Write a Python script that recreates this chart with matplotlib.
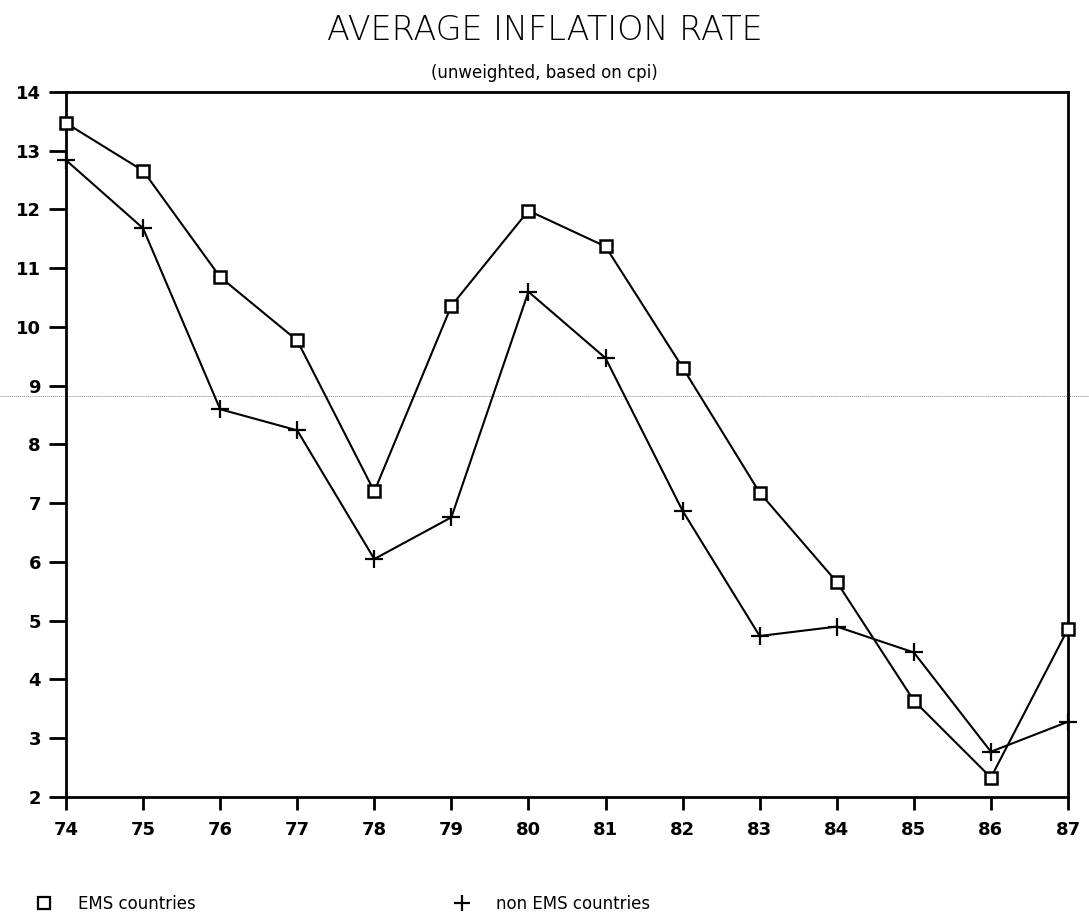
import matplotlib
matplotlib.use("Agg")
import matplotlib.pyplot as plt
from matplotlib.lines import Line2D
from matplotlib.transforms import blended_transform_factory

years = [74, 75, 76, 77, 78, 79, 80, 81, 82, 83, 84, 85, 86, 87]
ems = [13.47, 12.66, 10.85, 9.77, 7.20, 10.36, 11.98, 11.37, 9.31, 7.18, 5.66, 3.64, 2.33, 4.86]
non_ems = [12.84, 11.68, 8.60, 8.24, 6.05, 6.76, 10.60, 9.47, 6.87, 4.74, 4.90, 4.46, 2.77, 3.28]
ref_level = 8.83
yticks = list(range(2, 15))

fig = plt.figure(figsize=(10.89, 9.19), dpi=100)
ax = fig.add_axes([0.0606, 0.1328, 0.9201, 0.7671])

ax.plot(years, ems, color="black", lw=1.5, marker="s", ms=9, mfc="white",
        mec="black", mew=1.8, label="EMS countries", clip_on=False, zorder=3)
ax.plot(years, non_ems, color="black", lw=1.5, marker="+", ms=13, mew=1.6,
        label="non EMS countries", clip_on=False, zorder=3)

trans = blended_transform_factory(fig.transFigure, ax.transData)
ax.plot([0, 1], [ref_level, ref_level], transform=trans, color="#888888",
        lw=0.7, ls=(0, (1, 1)), clip_on=False, zorder=0)

ax.set_xlim(years[0], years[-1])
ax.set_ylim(2, 14)
ax.set_xticks(years)
ax.set_xticklabels([str(y) for y in years])
ax.set_yticks(yticks)
for s in ax.spines.values():
    s.set_linewidth(2)
ax.tick_params(axis="both", direction="out", width=2, length=9,
               labelsize=13)
ax.tick_params(axis="x", pad=8)
ax.tick_params(axis="y", length=12, pad=6)
for lab in ax.get_xticklabels() + ax.get_yticklabels():
    lab.set_fontweight("bold")

fig.text(0.5, 0.967, "AVERAGE INFLATION RATE", ha="center", va="center",
         fontsize=24, fontweight="light")
fig.text(0.5, 0.921, "(unweighted, based on cpi)", ha="center", va="center",
         fontsize=12)

h1 = Line2D([], [], ls="none", marker="s", ms=8, mfc="white", mec="black", mew=1.6)
h2 = Line2D([], [], ls="none", marker="+", ms=11, mec="black", mew=1.6)
fig.legend([h1, h2], ["EMS countries", "non EMS countries"], loc="center left",
           bbox_to_anchor=(0.015, 0.016), ncol=2, frameon=False, fontsize=12,
           columnspacing=15.2, handletextpad=1.3, handlelength=1.5)

fig.savefig("out.png", dpi=100)
